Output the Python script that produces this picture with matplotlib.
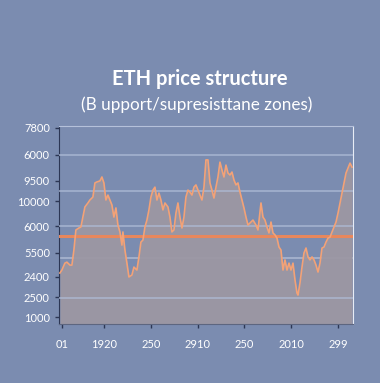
import matplotlib.pyplot as plt

# price trace
day = [1, 3, 6, 8, 11, 13, 15, 17, 20, 22,
       24, 26, 29, 31, 34, 36, 38, 41, 43, 45,
       47, 49, 51, 53, 55, 57, 59, 61, 63, 64,
       66, 68, 70, 73, 75, 78, 80, 82, 84, 86,
       88, 90, 92, 94, 96, 98, 100, 102, 104, 106,
       109, 111, 113, 115, 117, 119, 121, 123, 125, 127,
       129, 131, 133, 135, 137, 139, 141, 143, 145, 147,
       149, 151, 153, 155, 157, 159, 161, 163, 165, 167,
       169, 171, 173, 175, 177, 179, 181, 183, 185, 187,
       189, 191, 194, 197, 199, 202, 204, 206, 208, 210,
       212, 214, 216, 218, 220, 222, 224, 226, 228, 230,
       232, 234, 236, 238, 239, 241, 243, 245, 247, 249,
       251, 253, 255, 257, 259, 261, 263, 265, 267, 269,
       271, 273, 275, 277, 279, 281, 283, 285, 287, 289,
       291, 293]
price = [2060, 2180, 2460, 2500, 2380, 2380, 2990, 3800, 3880, 3920,
         4320, 4730, 4890, 5010, 5130, 5700, 5740, 5780, 5940, 5700,
         5010, 5210, 5010, 4810, 4320, 4690, 4000, 3720, 3190, 3720,
         2990, 2460, 1900, 1980, 2300, 2180, 2710, 3310, 3390, 3920,
         4200, 4610, 5130, 5410, 5530, 5010, 5290, 5010, 4610, 4890,
         4730, 4320, 3720, 3800, 4480, 4890, 4320, 3880, 4320, 5130,
         5410, 5330, 5210, 5530, 5620, 5410, 5210, 5010, 5530, 6630,
         6630, 5700, 5410, 5090, 5530, 5940, 6540, 6220, 5940, 6420,
         6100, 6020, 6140, 5820, 5620, 5700, 5330, 5010, 4690, 4320,
         4000, 4080, 4200, 4000, 3800, 4890, 4320, 4200, 3920, 3680,
         4120, 3680, 3600, 3470, 3110, 2990, 2180, 2590, 2180, 2460,
         2180, 2460, 1780, 1250, 1170, 1660, 2300, 2870, 3070, 2710,
         2590, 2710, 2590, 2380, 2100, 2460, 3070, 3110, 3310, 3470,
         3510, 3720, 3920, 4120, 4480, 4890, 5290, 5700, 6100, 6300,
         6500, 6340]

ytick_pos = [7920, 6830, 5780, 4970, 3960, 2870, 1900, 1090, 280]
ytick_lab = ["7800", "6000", "9500", "10000", "6000", "5500", "2400", "2500", "1000"]
xtick_pos = [3, 45, 92, 139, 185, 232, 279]
xtick_lab = ["01", "1920", "250", "2910", "250", "2010", "299"]
zones = [6830, 5370, 3960, 1050]
faint_zone = 2670
support = 3560

bg = "#7b8cb0"
plt.rcParams['font.family'] = ['Lato', 'DejaVu Sans']

fig = plt.figure(figsize=(3.8, 3.83), dpi=100, facecolor=bg)
ax = fig.add_axes([0.155, 0.154, 0.774, 0.517])
ax.set_facecolor(bg)

ax.axhline(faint_zone, color="#a9b6d0", lw=1.2, zorder=1)
ax.fill_between(day, price, 0, color="#9c97a3", alpha=0.95, zorder=2, lw=0)
for z in zones:
    ax.axhline(z, color="#aebbd6", lw=1.2, alpha=0.8, zorder=3)
ax.axhline(support, color="#e8875c", lw=2.2, zorder=4)
ax.plot(day, price, color="#f3a277", lw=1.2, zorder=5)

ax.set_xlim(0, 294)
ax.set_ylim(0, 8000)
ax.set_yticks(ytick_pos)
ax.set_yticklabels(ytick_lab)
ax.set_xticks(xtick_pos)
ax.set_xticklabels(xtick_lab)
ax.tick_params(colors="#2c3654", labelcolor="white", labelsize=8, length=3, width=1)
ax.tick_params(axis="x", pad=8)

ax.spines["left"].set_color("#2c3654")
ax.spines["bottom"].set_color("#5d6680")
ax.spines["top"].set_color("#b5c1da")
ax.spines["right"].set_color("#e8ecf5")

fig.text(0.527, 0.793, "ETH price structure", ha="center", va="center",
         fontsize=14.5, fontweight="bold", color="white")
fig.text(0.518, 0.726, "(B upport/supresisttane zones)", ha="center", va="center",
         fontsize=12.3, color="white")

fig.savefig("out.png", dpi=100, facecolor=bg)
